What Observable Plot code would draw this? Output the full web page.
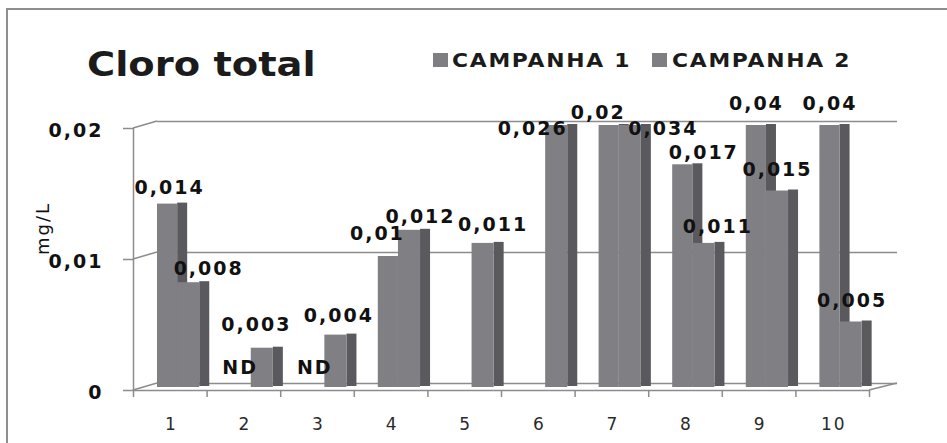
<!DOCTYPE html>
<html>
<head>
<meta charset="utf-8">
<script src="https://cdn.jsdelivr.net/npm/d3@7"></script>
<script src="https://cdn.jsdelivr.net/npm/@observablehq/plot@0.6"></script>
<style>
  body { margin: 0; background: #fff; }
  #chart { position: relative; width: 947px; height: 443px; overflow: hidden; font-family: "DejaVu Sans", sans-serif; background: #fff; }
  #frame { position: absolute; left: 6px; top: 8px; width: 1200px; height: 1200px; border: 2px solid #8f8f8f; box-sizing: border-box; pointer-events: none; }
  #head { position: relative; height: 95px; }
  .title { position: absolute; left: 87px; top: 47px; font-size: 34px; line-height: 34px; font-weight: bold; color: #1b1b1b; white-space: nowrap; transform: scaleX(1.13); transform-origin: 0 0; }
  .sw { position: absolute; top: 53px; width: 15px; height: 14px; background: #7f7f83; }
  .lt { position: absolute; top: 51px; font-size: 19px; line-height: 19px; font-weight: bold; letter-spacing: 1.5px; color: #1b1b1b; white-space: nowrap; transform: scaleX(1.15); transform-origin: 0 0; }
  #plot svg text { letter-spacing: 2px; }
</style>
</head>
<body>
<div id="chart">
  <div id="head"></div>
  <div id="plot"></div>
  <div id="frame"></div>
</div>
<script>
// Cloro total (mg/L) por ponto de coleta, duas campanhas
const title = "Cloro total";
const categories = ["1", "2", "3", "4", "5", "6", "7", "8", "9", "10"];
const series = ["CAMPANHA 1", "CAMPANHA 2"];
const campanha1 = [0.014, "ND", "ND", 0.01, null, null, 0.02, 0.017, 0.04, 0.04];
const campanha2 = [0.008, 0.003, 0.004, 0.012, 0.011, 0.026, 0.034, 0.011, 0.015, 0.005];
const yTicks = [0, 0.01, 0.02];
const yTickLabels = ["0", "0,01", "0,02"];
const yLabel = "mg/L";

// colours
const front = "#808084";
const side = "#5a5a5e";
const grid = "#8c8c8c";
const ink = "#111";

// header: title + legend
const head = document.getElementById("head");
head.innerHTML = `<div class="title">${title}</div>`;
const legendX = [[433, 452], [652, 672]];
series.forEach((name, s) => {
  head.insertAdjacentHTML("beforeend",
    `<div class="sw" style="left:${legendX[s][0]}px"></div><div class="lt" style="left:${legendX[s][1]}px">${name}</div>`);
});

// one row per bar
const rows = [];
categories.forEach((cat, i) => {
  [campanha1, campanha2].forEach((vals, s) => {
    const raw = vals[i];
    if (raw == null) return;
    rows.push({
      i, s, cat,
      value: raw === "ND" ? 0 : raw,
      text: raw === "ND" ? "ND" : String(raw).replace(".", ",")
    });
  });
});

// slot of each series inside a category (fraction of the category width)
const slot = [[0.326, 0.600], [0.600, 0.900]];
const depth = 0.136;
const n = categories.length;

// label nudges in pixels, keyed by category index and series
const labelOffsets = {
  "0-0": [1, -19], "0-1": [19, -17],
  "1-0": [-2, -23], "1-1": [-7, -26],
  "2-0": [-1, -23], "2-1": [2, -22],
  "3-0": [-12, -26], "3-1": [10, -16],
  "4-1": [9, -21],
  "5-1": [-25, 0],
  "6-0": [-12, -16], "6-1": [32, 0],
  "7-0": [20, -15], "7-1": [13, -19],
  "8-0": [-1, -25], "8-1": [-1, -24],
  "9-0": [-1, -25], "9-1": [0, -24]
};

const barMarks = [];
[0, 1].forEach(s => {
  const data = rows.filter(d => d.s === s);
  barMarks.push(
    Plot.rect(data, {
      x1: d => d.i + slot[s][1], x2: d => d.i + slot[s][1] + depth,
      y1: 0, y2: d => d.value, dy: -4, fill: side
    }),
    Plot.rect(data, {
      x1: d => d.i + slot[s][0], x2: d => d.i + slot[s][1],
      y1: 0, y2: d => d.value, dy: -3, fill: front
    })
  );
});

const labelMarks = rows.map(d => {
  const [dx, dy] = labelOffsets[`${d.i}-${d.s}`] || [0, -21];
  return Plot.text([d], {
    x: r => r.i + (slot[r.s][0] + slot[r.s][1]) / 2,
    y: r => Math.min(r.value, 0.02),
    text: "text",
    dx: dx + 1, dy,
    fontSize: 19, fontWeight: "bold", fill: ink
  });
});

// perspective edges of the walls and floor
const wallEdges = (index, { x, y }) => {
  const g = d3.create("svg:g").attr("stroke", grid).attr("stroke-width", 1.5).attr("fill", "none");
  for (const v of yTicks) {
    g.append("line").attr("x1", x(0)).attr("y1", y(v)).attr("x2", x(0) + 24).attr("y2", y(v) - 7);
  }
  g.append("line").attr("x1", x(n)).attr("y1", y(0)).attr("x2", x(n) + 28).attr("y2", y(0) - 7);
  return g.node();
};

const plot = Plot.plot({
  width: 947,
  height: 348,
  marginTop: 33,
  marginBottom: 53,
  marginLeft: 133,
  marginRight: 78,
  style: { fontFamily: "DejaVu Sans, sans-serif", background: "transparent", overflow: "visible" },
  x: { domain: [0, n], axis: null },
  y: { domain: [0, 0.02], clamp: true, axis: null },
  marks: [
    Plot.ruleY(yTicks, { x1: 0, x2: n, dx: 24, dy: -7, insetRight: -4, stroke: grid, strokeWidth: 1.5 }),
    Plot.ruleY([0], { x1: 0, x2: n, stroke: grid, strokeWidth: 1.5 }),
    wallEdges,
    Plot.ruleX([0], { y1: 0.02, y2: 0, insetBottom: -7, stroke: grid, strokeWidth: 1.5 }),
    Plot.ruleX(d3.range(1, n + 1), { y1: 0, y2: 0, insetBottom: -7, stroke: grid, strokeWidth: 1.5 }),
    Plot.ruleY(yTicks, { x1: 0, x2: 0, insetLeft: -10, stroke: grid, strokeWidth: 1.5 }),
    ...barMarks,
    ...labelMarks,
    Plot.text(yTicks, {
      x: 0, y: d => d, text: (d, i) => yTickLabels[i],
      textAnchor: "end", dx: -30, dy: 2,
      fontSize: 19, fontWeight: "bold", fill: ink
    }),
    Plot.text(categories, {
      x: (d, i) => i + 0.5, y: () => 0, text: d => d,
      dx: 1, dy: 34, fontSize: 17, fill: "#2a2a2a"
    }),
    Plot.text([yLabel], {
      frameAnchor: "left", textAnchor: "middle", rotate: -90, dx: -90, dy: -31,
      fontSize: 18, fill: ink
    })
  ]
});
document.getElementById("plot").appendChild(plot);
</script>
</body>
</html>
